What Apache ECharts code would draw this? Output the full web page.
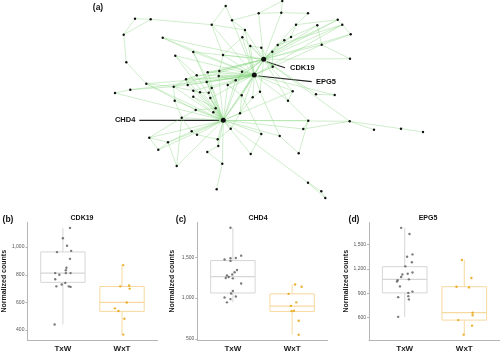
<!DOCTYPE html>
<html>
<head>
<meta charset="utf-8">
<script src="https://cdn.jsdelivr.net/npm/echarts@6/dist/echarts.min.js"></script>
<style>
  html, body { margin: 0; padding: 0; background: #fff; }
  #main { width: 500px; height: 353px; }
</style>
</head>
<body>
<div id="main"></div>
<script>
// ---- (a) network: node layout positions (first three are the labelled hubs) ----
const hubNames = ["CDK19", "EPG5", "CHD4"];
const nodePos = [
  [263.7, 59.3], [254.3, 75], [223.3, 120.3],
  [282.3, 1], [225.7, 6], [258.7, 13.3], [281.3, 12.7], [308, 13.3],
  [135, 18.7], [150.7, 19.3], [211.7, 24.7], [232, 20.3], [296, 24.7],
  [317.3, 25.3], [337.7, 19.7], [342.3, 24.7], [350.7, 34.3], [245, 30],
  [123.7, 34.7], [162.7, 37.7], [242.3, 37.3], [291, 37], [284.3, 40.3],
  [277.7, 45], [321.7, 44.7], [250.3, 46], [261.3, 47.7], [272.3, 51.7],
  [193.3, 52], [175.3, 55.7], [223, 55], [350, 58.7], [126.3, 62.3],
  [272.7, 66.7], [207.7, 72.3], [219.3, 71], [242, 71.7], [196.7, 75.3],
  [218.7, 76], [186, 79.3], [206.7, 82], [235.7, 80.3], [146.3, 83.7],
  [115, 93], [130.3, 89.7], [173.7, 86.7], [187.7, 85], [193.3, 90.7],
  [200, 92.3], [211.7, 88], [208.7, 92.7], [227.7, 85], [260, 91.7],
  [292.7, 91.3], [316, 94.3], [334.7, 95], [193.3, 96.7], [210.3, 98],
  [241.7, 95.3], [252.7, 97.3], [288, 100.7], [215.7, 108.3], [195.7, 110],
  [181.7, 117.7], [240, 113.3], [308.3, 120.7], [349.7, 121.3], [303.3, 129],
  [230.7, 128.7], [374, 129.7], [401, 128.7], [423, 132], [191.7, 131.3],
  [197, 134.7], [149.3, 137.7], [168, 142.3], [217.7, 139.3], [261.3, 134],
  [279.7, 136], [158.3, 149.7], [218.3, 146], [207.3, 152], [250.7, 154],
  [298.7, 153.3], [222.3, 163.7], [176.7, 166], [216.7, 189.3], [308, 182.7],
  [321.3, 191.3], [325.3, 198], [174.7, 100.7], [213.3, 112.3]
];
const edges = [
  // CDK19
  [0,1],[0,5],[0,6],[0,12],[0,13],[0,14],[0,16],[0,17],[0,20],[0,21],[0,22],[0,23],
  [0,24],[0,25],[0,26],[0,27],[0,30],[0,31],[0,33],[0,34],[0,35],[0,36],[0,41],[0,51],
  [0,52],[0,53],[0,54],[0,58],[0,60],[0,66],[0,28],[0,15],[0,19],[0,39],[0,45],[0,2],
  // EPG5
  [1,2],[1,10],[1,11],[1,17],[1,19],[1,20],[1,25],[1,29],[1,30],[1,34],[1,35],[1,36],
  [1,37],[1,38],[1,39],[1,41],[1,44],[1,45],[1,46],[1,49],[1,51],[1,52],[1,53],[1,55],
  [1,57],[1,58],[1,59],[1,60],[1,64],[1,28],[1,15],[1,24],[1,33],[1,42],[1,47],[1,40],
  // CHD4
  [2,34],[2,37],[2,38],[2,40],[2,41],[2,47],[2,48],[2,49],[2,50],[2,56],[2,57],[2,58],
  [2,61],[2,62],[2,63],[2,64],[2,65],[2,67],[2,68],[2,72],[2,73],[2,74],[2,75],[2,76],
  [2,77],[2,78],[2,79],[2,80],[2,82],[2,84],[2,87],[2,45],[2,39],[2,42],[2,28],[2,29],
  [2,66],[2,90],[2,91],[2,85],[2,43],[2,36],[2,51],[2,53],
  // others
  [8,9],[8,18],[9,18],[9,10],[10,17],[18,32],[32,42],[42,62],[4,11],[11,5],[5,6],[3,6],
  [6,7],[7,12],[14,15],[15,16],[14,12],[14,27],[15,23],[13,21],[43,44],[28,49],[65,67],
  [66,67],[66,69],[66,70],[70,71],[78,83],[87,88],[88,89],[87,89],[84,86],[84,81],[85,75],
  [85,63],[79,74],[74,75],[79,75],[74,63],[75,72],[82,77],[34,35],[35,38],[37,39],[39,46],
  [46,47],[47,48],[48,50],[49,50],[40,49],[38,41],[36,41],[30,35],[10,30],[20,30],[17,20],
  [25,26],[27,33],[22,23],[21,22],[12,21],[13,24],[56,61],[61,62],[57,61],[63,72],[72,73],
  [73,76],[76,80],[80,81],[68,76],[64,68],[58,64],[59,64],[52,59],[45,47],[45,39],[44,45],
  [42,45],[62,63],[41,51],[51,58],[90,45],[90,63],[91,61],[60,53],[54,55],[31,24],[16,24],
  [11,17],[4,10],[29,37],[19,28],[3,5],[26,33],[60,65],[58,77],[52,78],[83,65]
];

// ---- (b)-(d) box plots ----
const categories = ["TxW", "WxT"];

// box stats per category: [lower whisker, Q1, median, Q3, upper whisker]
const cdk19Box = [[440, 745, 812, 965, 1139], [367, 535, 600, 715, 870]];
const chd4Box = [[948, 1063, 1262, 1460, 1861], [552, 837, 901, 1052, 1167]];
const epg5Box = [[608, 903, 1070, 1226, 1704], [389, 568, 660, 979, 1309]];

// individual samples and their horizontal jitter (in category units)
const cdk19TxW = [1139, 1064, 1010, 973, 964, 915, 851, 833, 812, 812, 812, 800, 767, 741, 730, 716, 716, 712, 440];
const cdk19TxWJit = [0.12, 0, 0.07, 0.14, -0.10, 0.12, 0.06, 0.05, 0.13, 0.05, -0.13, -0.06, -0.13, 0.04, -0.02, -0.11, 0.10, 0.13, -0.14];
const cdk19WxT = [870, 716, 722, 700, 599, 557, 538, 482, 367];
const cdk19WxTJit = [0.02, -0.03, 0.12, 0.13, 0.08, -0.12, -0.06, 0.04, 0.02];

const chd4TxW = [1861, 1520, 1472, 1488, 1492, 1456, 1345, 1317, 1290, 1278, 1258, 1246, 1242, 1179, 1087, 1056, 1008, 1020, 988, 948];
const chd4TxWJit = [-0.04, 0.14, -0.14, -0.04, 0.05, -0.04, 0.07, 0.03, -0.01, -0.10, -0.07, -0.12, 0, 0.14, 0, -0.03, -0.14, 0.05, -0.04, -0.10];
const chd4WxT = [1167, 1139, 1052, 948, 905, 841, 845, 722, 552];
const chd4WxTJit = [0.05, 0.16, -0.06, 0.07, -0.02, -0.01, 0.03, 0.11, 0.11];

const epg5TxW = [1704, 1628, 1349, 1377, 1281, 1230, 1154, 1138, 1130, 1098, 1070, 1058, 1042, 983, 919, 903, 863, 823, 851, 608];
const epg5TxWJit = [-0.06, 0.08, 0.04, 0.13, 0.12, 0.01, 0.13, 0.05, -0.04, -0.06, 0.07, -0.12, -0.13, -0.08, 0.13, 0.06, 0.06, 0.07, -0.11, -0.11];
const epg5WxT = [1309, 1086, 979, 971, 660, 628, 568, 500, 389];
const epg5WxTJit = [-0.04, 0.12, -0.13, 0.08, 0.14, 0.14, -0.10, 0.13, -0.01];

const cdk19Ticks = [400, 600, 800, 1000];
const chd4Ticks = [500, 1000, 1500];
const epg5Ticks = [600, 900, 1200, 1500];

const font = "Liberation Sans, Arial, sans-serif";
const boxLine = ["#d6d6d6", "#f7d9a0"];
const dotColor = ["#5a5a5a", "#e69f00"];

const panels = [
  { tag: "(b)", title: "CDK19", left: 27, width: 130.5, yMin: 328, yMax: 1178, ticks: cdk19Ticks, box: cdk19Box,
    pts: [[cdk19TxW, cdk19TxWJit], [cdk19WxT, cdk19WxTJit]], tagX: 8, titleX: 82, nameGap: 14 },
  { tag: "(c)", title: "CHD4", left: 197.3, width: 130.4, yMin: 487, yMax: 1926, ticks: chd4Ticks, box: chd4Box,
    pts: [[chd4TxW, chd4TxWJit], [chd4WxT, chd4WxTJit]], tagX: 181, titleX: 258, nameGap: 22 },
  { tag: "(d)", title: "EPG5", left: 369, width: 131, yMin: 323, yMax: 1770, ticks: epg5Ticks, box: epg5Box,
    pts: [[epg5TxW, epg5TxWJit], [epg5WxT, epg5WxTJit]], tagX: 354, titleX: 428, nameGap: 13 }
];

const chart = echarts.init(document.getElementById("main"));

const grid = [{ left: 0, top: 0, width: 500, height: 353 }];
const xAxis = [{ type: "value", gridIndex: 0, min: 0, max: 500, show: false }];
const yAxis = [{ type: "value", gridIndex: 0, min: 0, max: 353, inverse: true, show: false }];
const series = [{
  type: "graph",
  coordinateSystem: "cartesian2d",
  xAxisIndex: 0,
  yAxisIndex: 0,
  layout: "none",
  silent: true,
  symbol: "circle",
  itemStyle: { color: "#111" },
  lineStyle: { color: "#86d47f", width: 0.8, opacity: 0.5 },
  data: nodePos.map((p, i) => ({
    name: i < 3 ? hubNames[i] : "n" + i,
    value: p,
    symbolSize: i < 3 ? 5 : 2.4
  })),
  links: edges.map(e => ({ source: e[0], target: e[1] }))
}];

const BOX_W = 0.75;

panels.forEach((p, k) => {
  const gi = k + 1;
  grid.push({ left: p.left, top: 222.5, width: p.width, height: 120.3 });
  xAxis.push({
    type: "value", gridIndex: gi, min: 0.4, max: 2.6,
    splitLine: { show: false },
    axisLine: { lineStyle: { color: "#b5b5b5", width: 1 } },
    axisTick: { show: false },
    axisLabel: {
      customValues: [1, 2],
      formatter: v => categories[Math.round(v) - 1],
      fontFamily: font, fontSize: 8, fontWeight: "bold", color: "#1a1a1a", margin: 5
    }
  });
  yAxis.push({
    type: "value", gridIndex: gi, min: p.yMin, max: p.yMax,
    name: "Normalized counts", nameLocation: "middle", nameGap: p.nameGap,
    nameTextStyle: { fontFamily: font, fontSize: 7, fontWeight: "bold", color: "#1a1a1a" },
    splitLine: { show: false },
    axisLine: { show: true, lineStyle: { color: "#b5b5b5", width: 1 } },
    axisTick: { show: true, length: 2, customValues: p.ticks, lineStyle: { color: "#b5b5b5" } },
    axisLabel: {
      customValues: p.ticks,
      formatter: v => v.toLocaleString("en-US"),
      fontFamily: font, fontSize: 5, color: "#555", margin: 3
    }
  });
  series.push({
    type: "custom",
    xAxisIndex: gi, yAxisIndex: gi,
    silent: true,
    encode: { x: 0, y: [1, 2, 3, 4, 5] },
    data: p.box.map((b, c) => [c + 1].concat(b)),
    renderItem: (params, api) => {
      const x = api.value(0);
      const lo = api.coord([x, api.value(1)]);
      const q1 = api.coord([x, api.value(2)]);
      const md = api.coord([x, api.value(3)]);
      const q3 = api.coord([x, api.value(4)]);
      const hi = api.coord([x, api.value(5)]);
      const w = api.size([BOX_W, 0])[0];
      const stroke = boxLine[params.dataIndex];
      return {
        type: "group",
        children: [
          { type: "line", shape: { x1: lo[0], y1: lo[1], x2: q1[0], y2: q1[1] }, style: { stroke, lineWidth: 1 } },
          { type: "line", shape: { x1: q3[0], y1: q3[1], x2: hi[0], y2: hi[1] }, style: { stroke, lineWidth: 1 } },
          { type: "rect", shape: { x: q3[0] - w / 2, y: q3[1], width: w, height: q1[1] - q3[1] }, style: { stroke, fill: "#fff", lineWidth: 1 } },
          { type: "line", shape: { x1: md[0] - w / 2, y1: md[1], x2: md[0] + w / 2, y2: md[1] }, style: { stroke, lineWidth: 1.2 } }
        ]
      };
    }
  });
  p.pts.forEach((pair, c) => {
    series.push({
      type: "scatter",
      xAxisIndex: gi, yAxisIndex: gi,
      silent: true,
      symbolSize: 2.4,
      itemStyle: { color: dotColor[c] },
      data: pair[0].map((v, i) => [c + 1 + pair[1][i], v])
    });
  });
});

chart.setOption({
  animation: false,
  grid, xAxis, yAxis, series
});

// callout lines and text
const hub = i => chart.convertToPixel({ gridIndex: 0 }, nodePos[i]);
const [c19, e5, c4] = [hub(0), hub(1), hub(2)];
const labelStyle = { fontFamily: font, fontSize: 7.5, fontWeight: "bold", fill: "#111" };
const graphic = [
  { type: "text", x: 98, y: 8, style: Object.assign({ text: "(a)", align: "center", verticalAlign: "middle" }, labelStyle, { fontSize: 8.5 }) },
  { type: "line", shape: { x1: c19[0] + 3, y1: c19[1] + 2.4, x2: c19[0] + 21.3, y2: c19[1] + 8.4 }, style: { stroke: "#222", lineWidth: 1.2 } },
  { type: "text", x: c19[0] + 26.3, y: c19[1] + 9, style: Object.assign({ text: "CDK19", align: "left", verticalAlign: "middle" }, labelStyle) },
  { type: "line", shape: { x1: e5[0] + 4, y1: e5[1] + 1, x2: e5[0] + 57.4, y2: e5[1] + 6.7 }, style: { stroke: "#222", lineWidth: 1.2 } },
  { type: "text", x: e5[0] + 61.7, y: e5[1] + 7.3, style: Object.assign({ text: "EPG5", align: "left", verticalAlign: "middle" }, labelStyle) },
  { type: "line", shape: { x1: c4[0] - 84, y1: c4[1], x2: c4[0] - 4, y2: c4[1] }, style: { stroke: "#222", lineWidth: 1.2 } },
  { type: "text", x: c4[0] - 88, y: c4[1], style: Object.assign({ text: "CHD4", align: "right", verticalAlign: "middle" }, labelStyle) }
];
panels.forEach(p => {
  graphic.push({ type: "text", x: p.tagX, y: 219.5, style: { text: p.tag, fontFamily: font, fontSize: 8.5, fontWeight: "bold", fill: "#111", align: "center", verticalAlign: "middle" } });
  graphic.push({ type: "text", x: p.titleX, y: 218.5, style: { text: p.title, fontFamily: font, fontSize: 7, fontWeight: "bold", fill: "#111", align: "center", verticalAlign: "middle" } });
});
chart.setOption({ graphic });
</script>
</body>
</html>
